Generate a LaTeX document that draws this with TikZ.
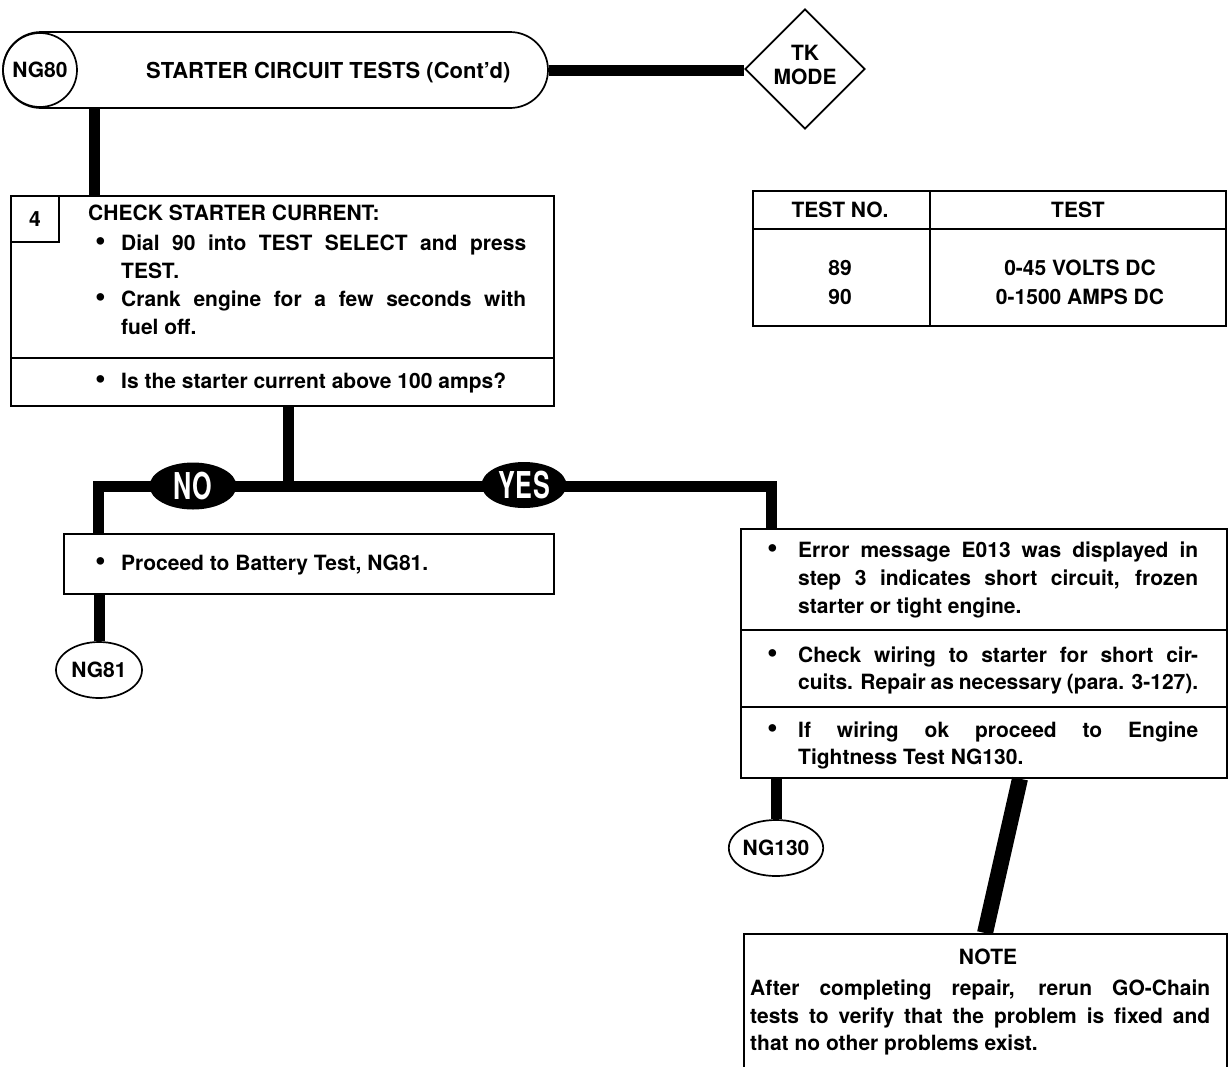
\documentclass[tikz,border=0pt]{standalone}
\usepackage{fontspec}
\usepackage{graphicx}
\setmainfont{TeX Gyre Heros}
\usetikzlibrary{shapes.geometric,shapes.misc}
\newcommand{\fs}{\fontsize{21}{25}\selectfont\bfseries}
\newcommand{\hfs}{\fontsize{22}{26}\selectfont\bfseries}
\newcommand{\ynf}{\fontsize{37}{37}\selectfont\bfseries}
\newcommand{\jline}[2]{\makebox[#1][s]{#2}}
\newcommand{\bul}{\raisebox{-0.6pt}{\scalebox{1.45}{\textbullet}}}
\begin{document}
\begin{tikzpicture}[x=1pt,y=-1pt,
  bd/.style={draw,line width=1.7pt},
  box/.style={bd,rectangle,inner sep=0pt,anchor=north west},
  wire/.style={line width=11pt},
  tx/.style={anchor=base west,inner sep=0pt,font=\fs},
  ctx/.style={anchor=base,inner sep=0pt,font=\fs},
  yn/.style={ellipse,fill=black,inner sep=0pt,text=white,font=\ynf},
  term/.style={ellipse,bd,inner sep=0pt,font=\fs,minimum width=86pt,minimum height=56pt}]
\useasboundingbox (0,0) rectangle (1228,1066);

% header
\node[rounded rectangle,bd,minimum width=545pt,minimum height=76pt,inner sep=0pt] (hdr) at (275.5,70) {};
\node[circle,bd,minimum size=74pt,inner sep=0pt,font=\fs] (ng80) at (40,70) {NG80};
\node[tx,font=\hfs] (title) at (146,78) {STARTER CIRCUIT TESTS (Cont'd)};

% TK MODE diamond
\node[diamond,bd,minimum width=120pt,minimum height=120pt,inner sep=0pt] (tk) at (805,69) {};
\node[ctx] (tk1) at (805,60) {TK};
\node[ctx] (tk2) at (805,84) {MODE};

% step 4 box
\node[box,minimum width=543pt,minimum height=210pt] (step) at (10,195) {};
\node[box,minimum width=48pt,minimum height=46pt] (num) at (10,195) {};
\node[font=\fs,inner sep=0pt] (numtxt) at (num.center) {4};
\draw[bd] (10,358) -- (553,358);
\node[tx] (s1) at (88,220) {CHECK STARTER CURRENT:};
\node[tx] (b1) at (95,250) {\bul};
\node[tx] (s2) at (121,250) {\jline{405pt}{Dial 90 into TEST SELECT and press}};
\node[tx] (s3) at (121,278) {TEST.};
\node[tx] (b2) at (95,306) {\bul};
\node[tx] (s4) at (121,306) {\jline{405pt}{Crank engine for a few seconds with}};
\node[tx] (s5) at (121,334) {fuel off.};
\node[tx] (b3) at (95,388) {\bul};
\node[tx] (s6) at (121,388) {Is the starter current above 100 amps?};

% table
\node[box,minimum width=473pt,minimum height=135pt] (tbl) at (752,190) {};
\draw[bd] (752,229) -- (1225,229);
\draw[bd] (930,190) -- (930,325);
\node[ctx] (th1) at (840,217) {TEST NO.};
\node[ctx] (th2) at (1078,217) {TEST};
\node[ctx] (t11) at (840,275) {89};
\node[ctx] (t12) at (1080,275) {0-45 VOLTS DC};
\node[ctx] (t21) at (840,304) {90};
\node[ctx] (t22) at (1080,304) {0-1500 AMPS DC};

% NO box
\node[box,minimum width=490pt,minimum height=60pt] (nobox) at (63,533) {};
\node[tx] (nb) at (95,570) {\bul};
\node[tx] (nt) at (121,570) {Proceed to Battery Test, NG81.};

% right box
\node[box,minimum width=486pt,minimum height=249pt] (rbox) at (740,528) {};
\draw[bd] (740,630) -- (1226,630);
\draw[bd] (740,707) -- (1226,707);
\node[tx] (rb1) at (767,557) {\bul};
\node[tx] (r1) at (798,557) {\jline{400pt}{Error message E013 was displayed in}};
\node[tx] (r2) at (798,585) {\jline{400pt}{step 3 indicates short circuit, frozen}};
\node[tx] (r3) at (798,613) {starter or tight engine.};
\node[tx] (rb2) at (767,662) {\bul};
\node[tx] (r4) at (798,662) {\jline{400pt}{Check wiring to starter for short cir-}};
\node[tx] (r5) at (798,689) {\jline{400pt}{cuits. Repair as necessary (para. 3-127).}};
\node[tx] (rb3) at (767,737) {\bul};
\node[tx] (r6) at (798,737) {\jline{400pt}{If wiring ok proceed to Engine}};
\node[tx] (r7) at (798,764) {Tightness Test NG130.};

% note box
\node[box,minimum width=483pt,minimum height=150pt] (note) at (743,933) {};
\node[ctx] (nh) at (988,964) {NOTE};
\node[tx] (n1) at (750,995) {\jline{460pt}{After completing repair, rerun GO-Chain}};
\node[tx] (n2) at (750,1023) {\jline{460pt}{tests to verify that the problem is fixed and}};
\node[tx] (n3) at (750,1050) {that no other problems exist.};

% terminals
\node[term] (ng81) at (99,670) {NG81};
\node[term] (ng130) at (776,848) {NG130};

% connectors
\coordinate (hx) at (94,0);
\coordinate (jL) at (98,486);
\coordinate (jM) at (288,486);
\coordinate (jR) at (771,486);
\coordinate (d1) at (1020,0);
\coordinate (d2) at (985,0);
\draw[wire] (hdr.east) -- (hdr.east -| tk.west);
\draw[wire] (hdr.south -| hx) -- (step.north -| hx);
\draw[wire] (step.south -| jM) -- (jM);
\draw[wire] (nobox.north -| jL) -- (jL) -- (jR) -- (rbox.north -| jR);
\draw[wire] (nobox.south -| ng81) -- (ng81.north);
\draw[wire] (rbox.south -| ng130) -- (ng130.north);
\draw[line width=16pt] (rbox.south -| d1) -- (note.north -| d2);

% decision labels
\node[yn,minimum width=87pt,minimum height=47pt] (no) at (193,486) {\scalebox{0.68}[1]{N\kern1ptO}};
\node[yn,minimum width=85pt,minimum height=46pt] (yes) at (524,485) {\scalebox{0.68}[1]{Y\kern1ptE\kern1ptS}};
\end{tikzpicture}
\end{document}
